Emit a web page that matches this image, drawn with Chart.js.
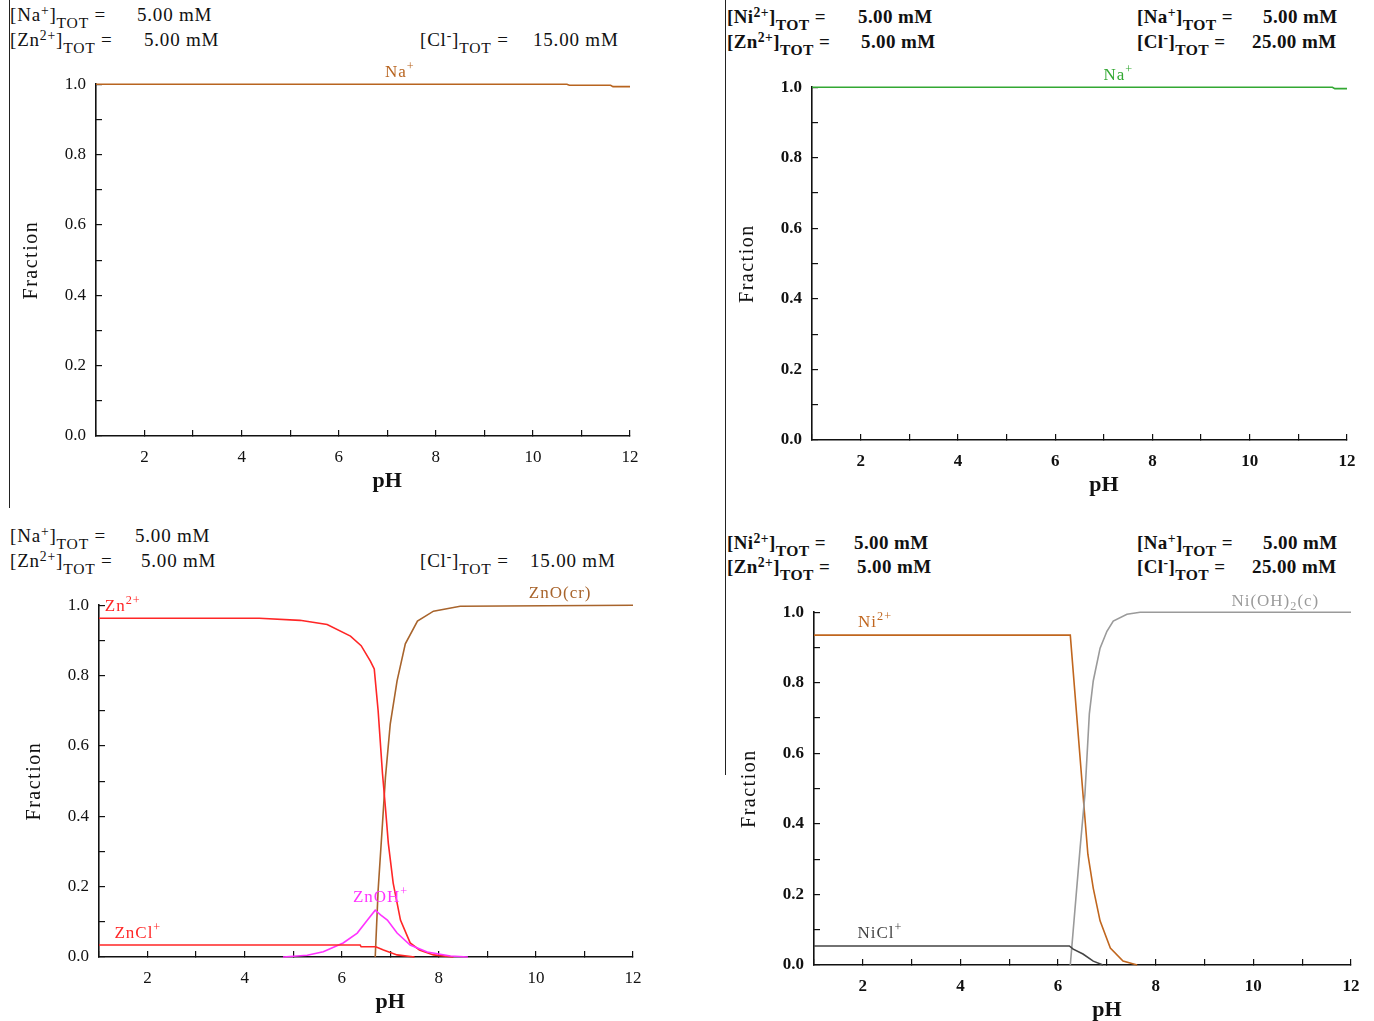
<!DOCTYPE html>
<html>
<head>
<meta charset="utf-8">
<script src="https://cdn.jsdelivr.net/npm/chart.js@4.4.1/dist/chart.umd.min.js"></script>
<style>
  body { margin: 0; background: #fff; width: 1374px; height: 1021px; overflow: hidden; position: relative; font-family: "Liberation Serif", "Times New Roman", serif; }
  .box { position: absolute; }
  .t { position: absolute; font-size: 19px; letter-spacing: 0.8px; line-height: 20px; white-space: nowrap; color: #111; transform: translateY(-50%); }
  .t.b { font-weight: bold; letter-spacing: 0.4px; }
  .t sup { font-size: 0.72em; vertical-align: 0.45em; line-height: 0; }
  .t sub { font-size: 0.82em; vertical-align: -0.45em; line-height: 0; }
  .vline { position: absolute; width: 1px; background: #222; }
</style>
</head>
<body>

<!-- lineas verticales de separacion -->
<div class="vline" style="left:9px; top:0; height:508px;"></div>
<div class="vline" style="left:725px; top:0; height:775px;"></div>

<!-- Cabeceras: arriba izquierda -->
<div class="t" style="left:10px; top:15px;">[Na<sup>+</sup>]<sub>TOT</sub> =</div>
<div class="t" style="left:137px; top:15px;">5.00 mM</div>
<div class="t" style="left:10px; top:40px;">[Zn<sup>2+</sup>]<sub>TOT</sub> =</div>
<div class="t" style="left:144px; top:40px;">5.00 mM</div>
<div class="t" style="left:420px; top:40px;">[Cl<sup>-</sup>]<sub>TOT</sub> =</div>
<div class="t" style="left:533px; top:40px;">15.00 mM</div>

<!-- Cabeceras: arriba derecha -->
<div class="t b" style="left:727px; top:17px;">[Ni<sup>2+</sup>]<sub>TOT</sub> =</div>
<div class="t b" style="left:858px; top:17px;">5.00 mM</div>
<div class="t b" style="left:727px; top:42px;">[Zn<sup>2+</sup>]<sub>TOT</sub> =</div>
<div class="t b" style="left:861px; top:42px;">5.00 mM</div>
<div class="t b" style="left:1137px; top:17px;">[Na<sup>+</sup>]<sub>TOT</sub> =</div>
<div class="t b" style="left:1263px; top:17px;">5.00 mM</div>
<div class="t b" style="left:1137px; top:42px;">[Cl<sup>-</sup>]<sub>TOT</sub> =</div>
<div class="t b" style="left:1252px; top:42px;">25.00 mM</div>

<!-- Cabeceras: abajo izquierda -->
<div class="t" style="left:10px; top:536px;">[Na<sup>+</sup>]<sub>TOT</sub> =</div>
<div class="t" style="left:135px; top:536px;">5.00 mM</div>
<div class="t" style="left:10px; top:561px;">[Zn<sup>2+</sup>]<sub>TOT</sub> =</div>
<div class="t" style="left:141px; top:561px;">5.00 mM</div>
<div class="t" style="left:420px; top:561px;">[Cl<sup>-</sup>]<sub>TOT</sub> =</div>
<div class="t" style="left:530px; top:561px;">15.00 mM</div>

<!-- Cabeceras: abajo derecha -->
<div class="t b" style="left:727px; top:543px;">[Ni<sup>2+</sup>]<sub>TOT</sub> =</div>
<div class="t b" style="left:854px; top:543px;">5.00 mM</div>
<div class="t b" style="left:727px; top:567px;">[Zn<sup>2+</sup>]<sub>TOT</sub> =</div>
<div class="t b" style="left:857px; top:567px;">5.00 mM</div>
<div class="t b" style="left:1137px; top:543px;">[Na<sup>+</sup>]<sub>TOT</sub> =</div>
<div class="t b" style="left:1263px; top:543px;">5.00 mM</div>
<div class="t b" style="left:1137px; top:567px;">[Cl<sup>-</sup>]<sub>TOT</sub> =</div>
<div class="t b" style="left:1252px; top:567px;">25.00 mM</div>

<div class="box" style="left:6px; top:58px;"><canvas id="chartA" width="654" height="453"></canvas></div>
<div class="box" style="left:722px; top:61px;"><canvas id="chartB" width="655" height="454"></canvas></div>
<div class="box" style="left:9px; top:579px;"><canvas id="chartC" width="654" height="453"></canvas></div>
<div class="box" style="left:724px; top:586px;"><canvas id="chartD" width="657" height="454"></canvas></div>

<script>
// ---- Datos ----
// Panel A: Na+ (arriba izquierda)
const phNaA   = [1, 10.7, 10.75, 11.6, 11.65, 12];
const fracNaA = [1.0, 1.0, 0.997, 0.997, 0.993, 0.993];

// Panel B: Na+ (arriba derecha)
const phNaB   = [1, 11.7, 11.75, 12];
const fracNaB = [1.0, 1.0, 0.996, 0.996];

// Panel C: sistema Zn (abajo izquierda)
const phZnC     = [1, 4.3, 5.14, 5.7, 6.18, 6.4, 6.59, 6.67, 6.75, 6.84, 6.90, 6.96, 7.06, 7.21, 7.41, 7.6, 7.89, 8.3];
const fracZnC   = [0.963, 0.963, 0.957, 0.945, 0.912, 0.885, 0.841, 0.819, 0.70, 0.521, 0.425, 0.323, 0.21, 0.105, 0.04, 0.02, 0.006, 0];
const phZnOC    = [6.69, 6.75, 6.84, 6.90, 7.0, 7.14, 7.31, 7.56, 7.89, 8.44, 12];
const fracZnOC  = [0, 0.19, 0.38, 0.51, 0.663, 0.785, 0.89, 0.955, 0.983, 0.997, 1.0];
const phZnOHC   = [4.79, 5.29, 5.62, 6.03, 6.32, 6.53, 6.69, 6.8, 6.94, 7.14, 7.41, 7.76, 8.24, 8.6];
const fracZnOHC = [0, 0.005, 0.015, 0.04, 0.068, 0.105, 0.133, 0.12, 0.105, 0.068, 0.034, 0.014, 0.003, 0];
const phZnClC   = [1, 6.38, 6.4, 6.7, 6.86, 7.14, 7.5];
const fracZnClC = [0.034, 0.034, 0.029, 0.029, 0.02, 0.006, 0];

// Panel D: sistema Ni (abajo derecha)
const phNiD      = [1, 6.25, 6.51, 6.61, 6.72, 6.86, 7.07, 7.33, 7.62];
const fracNiD    = [0.935, 0.935, 0.484, 0.314, 0.218, 0.125, 0.048, 0.011, 0];
const phNiOHD    = [6.25, 6.45, 6.55, 6.64, 6.72, 6.86, 7.0, 7.13, 7.41, 7.68, 12];
const fracNiOHD  = [0, 0.33, 0.484, 0.712, 0.805, 0.898, 0.946, 0.975, 0.994, 1.0, 1.0];
const phNiClD    = [1, 6.23, 6.31, 6.51, 6.72, 6.92];
const fracNiClD  = [0.054, 0.054, 0.045, 0.031, 0.011, 0];

// Ejes
const xTickValues = [2, 4, 6, 8, 10, 12];   // etiquetas del eje pH
const yTickValues = [0.0, 0.2, 0.4, 0.6, 0.8, 1.0];

const SERIF = '"Liberation Serif", "Times New Roman", serif';

function pts(xs, ys) {
    return xs.map((x, i) => ({ x: x, y: ys[i] }));
}

// Dibuja texto con superindices / subindices
function drawRich(ctx, parts, x, y, size, color, align) {
    ctx.letterSpacing = '1px';
    let total = 0;
    parts.forEach(p => {
        const s = p[1] ? size * 0.72 : size;
        ctx.font = s + 'px ' + SERIF;
        total += ctx.measureText(p[0]).width;
    });
    let cx = align === 'center' ? x - total / 2 : x;
    ctx.fillStyle = color;
    ctx.textBaseline = 'middle';
    ctx.textAlign = 'left';
    parts.forEach(p => {
        const s = p[1] ? size * 0.72 : size;
        ctx.font = s + 'px ' + SERIF;
        let dy = 0;
        if (p[1] === 'sup') dy = -size * 0.32;
        if (p[1] === 'sub') dy = size * 0.3;
        ctx.fillText(p[0], cx, y + dy);
        cx += ctx.measureText(p[0]).width;
    });
}

function makePanel(id, datasets, labels, bold) {
    const tickFont = { family: SERIF, size: 17, weight: bold ? 'bold' : 'normal' };
    const labelPlugin = {
        id: 'speciesLabels',
        afterDatasetsDraw(chart) {
            const ctx = chart.ctx;
            const area = chart.chartArea;
            ctx.save();
            labels.forEach(l => {
                const px = chart.scales.x.getPixelForValue(l.x);
                const py = chart.scales.y.getPixelForValue(l.y);
                drawRich(ctx, l.parts, px, py, 17, l.color, l.align || 'center');
            });
            // titulos de ejes
            ctx.fillStyle = '#111';
            ctx.textAlign = 'center';
            ctx.textBaseline = 'middle';
            ctx.letterSpacing = '0px';
            ctx.font = 'bold 22px ' + SERIF;
            ctx.fillText('pH', chart.scales.x.getPixelForValue(7), area.bottom + 45);
            ctx.letterSpacing = '1.5px';
            ctx.font = '20px ' + SERIF;
            ctx.translate(area.left - 64, chart.scales.y.getPixelForValue(0.5));
            ctx.rotate(-Math.PI / 2);
            ctx.fillText('Fraction', 0, 0);
            ctx.restore();
        }
    };
    return new Chart(document.getElementById(id), {
        type: 'line',
        data: {
            datasets: datasets.map(d => ({
                data: pts(d.x, d.y),
                borderColor: d.color,
                borderWidth: 1.6,
                pointRadius: 0,
                tension: 0,
                fill: false,
                clip: false
            }))
        },
        options: {
            responsive: false,
            animation: false,
            events: [],
            layout: { padding: { top: 25, right: 30, left: 0, bottom: 0 } },
            plugins: { legend: { display: false }, tooltip: { enabled: false } },
            scales: {
                x: {
                    type: 'linear',
                    min: 1, max: 12,
                    afterFit: s => { s.height = 75; },
                    border: { display: true, color: '#111', width: 1.6 },
                    grid: { drawOnChartArea: false, tickLength: -6, color: '#111', lineWidth: 1.2 },
                    ticks: {
                        stepSize: 1, autoSkip: false, maxRotation: 0, padding: 17,
                        color: '#111', font: tickFont,
                        callback: v => xTickValues.includes(v) ? String(v) : ''
                    }
                },
                y: {
                    min: 0, max: 1,
                    afterFit: s => { s.width = 90; },
                    border: { display: true, color: '#111', width: 1.6 },
                    grid: { drawOnChartArea: false, tickLength: -6, color: '#111', lineWidth: 1.2 },
                    ticks: {
                        stepSize: 0.1, autoSkip: false, padding: 16,
                        color: '#111', font: tickFont,
                        callback: v => {
                            const r = Math.round(v * 10) / 10;
                            return yTickValues.some(t => Math.abs(t - r) < 1e-6) ? r.toFixed(1) : '';
                        }
                    }
                }
            }
        },
        plugins: [labelPlugin]
    });
}

// Colores
const brownNa = '#b8641f';
const greenNa = '#33a833';
const red     = '#ff2626';
const brownZnO = '#a8642c';
const magenta = '#ff33ff';
const brownNi = '#c0661e';
const grayNiOH = '#9a9a9a';
const darkNiCl = '#444444';

makePanel('chartA',
    [{ x: phNaA, y: fracNaA, color: brownNa }],
    [{ x: 7.26, y: 1.034, parts: [['Na'], ['+', 'sup']], color: brownNa }],
    false);

makePanel('chartB',
    [{ x: phNaB, y: fracNaB, color: greenNa }],
    [{ x: 7.3, y: 1.034, parts: [['Na'], ['+', 'sup']], color: greenNa }],
    true);

makePanel('chartC',
    [
        { x: phZnClC, y: fracZnClC, color: red },
        { x: phZnOHC, y: fracZnOHC, color: magenta },
        { x: phZnC, y: fracZnC, color: red },
        { x: phZnOC, y: fracZnOC, color: brownZnO }
    ],
    [
        { x: 1.12, y: 0.997, parts: [['Zn'], ['2+', 'sup']], color: red, align: 'left' },
        { x: 10.5, y: 1.034, parts: [['ZnO(cr)']], color: brownZnO },
        { x: 6.8, y: 0.17, parts: [['ZnOH'], ['+', 'sup']], color: magenta },
        { x: 1.8, y: 0.068, parts: [['ZnCl'], ['+', 'sup']], color: red }
    ],
    false);

makePanel('chartD',
    [
        { x: phNiClD, y: fracNiClD, color: darkNiCl },
        { x: phNiOHD, y: fracNiOHD, color: grayNiOH },
        { x: phNiD, y: fracNiD, color: brownNi }
    ],
    [
        { x: 2.25, y: 0.972, parts: [['Ni'], ['2+', 'sup']], color: brownNi },
        { x: 10.45, y: 1.03, parts: [['Ni(OH)'], ['2', 'sub'], ['(c)']], color: grayNiOH },
        { x: 2.35, y: 0.09, parts: [['NiCl'], ['+', 'sup']], color: darkNiCl }
    ],
    true);
</script>
</body>
</html>
